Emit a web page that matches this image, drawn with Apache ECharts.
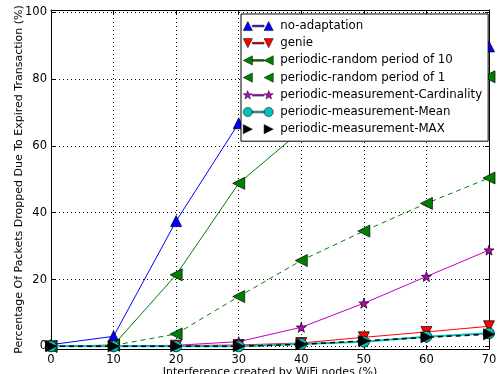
<!DOCTYPE html>
<html>
<head>
<meta charset="utf-8">
<script src="https://cdn.jsdelivr.net/npm/echarts@6/dist/echarts.min.js"></script>
<style>
  html, body { margin: 0; padding: 0; background: #fff; }
  #chart { width: 497px; height: 374px; }
</style>
</head>
<body>
<div id="chart"></div>
<script>
// Interference levels (% of WiFi nodes)
const interference = [0, 10, 20, 30, 40, 50, 60, 70];

// Percentage of packets dropped due to expired transaction
const noAdaptation   = [0.5, 3.0, 37.5, 66.8, 76, 82, 86, 89.8];
const genie          = [0.0, 0.0, 0.2, 0.4, 1.0, 2.7, 4.3, 6.0];
const randomPeriod10 = [0.0, 0.4, 21.4, 48.8, 64.6, 71, 76.5, 80.7];
const randomPeriod1  = [0.0, 0.3, 3.7, 14.9, 25.7, 34.5, 42.8, 50.4];
const cardinality    = [0.0, 0.1, 0.3, 1.4, 5.7, 12.9, 20.9, 28.8];
const meanSeries     = [0.0, 0.0, 0.0, 0.0, 0.7, 1.4, 2.9, 3.9];
const maxSeries      = [0.0, 0.0, 0.0, 0.0, 0.6, 1.6, 2.7, 3.6];

const seriesNames = [
  'no-adaptation',
  'genie',
  'periodic-random period of 10',
  'periodic-random period of 1',
  'periodic-measurement-Cardinality',
  'periodic-measurement-Mean',
  'periodic-measurement-MAX'
];

const yTicks = [0, 20, 40, 60, 80, 100];
const xTicks = [0, 10, 20, 30, 40, 50, 60, 70];

const FONT = 'DejaVu Sans';

const pairs = ys => interference.map((x, i) => [x, ys[i]]);

// marker shapes
const STAR = 'path://M0,-10 L2.35,-3.24 L9.51,-3.09 L3.8,1.24 L5.88,8.09 L0,4 L-5.88,8.09 L-3.8,1.24 L-9.51,-3.09 L-2.35,-3.24 Z';

// legend icons: a marker at each end of a short line
const bar = 'M11,5 L25,5 L25,7 L11,7 Z';
const ICON_UP    = 'path://M0,11.5 L5.5,0.5 L11,11.5 Z M25,11.5 L30.5,0.5 L36,11.5 Z ' + bar;
const ICON_DOWN  = 'path://M0,0.5 L11,0.5 L5.5,11.5 Z M25,0.5 L36,0.5 L30.5,11.5 Z ' + bar;
const ICON_LEFT  = 'path://M0,6 L11,0.5 L11,11.5 Z M25,6 L36,0.5 L36,11.5 Z ' + bar;
const ICON_LEFT2 = 'path://M0,6 L11,0.5 L11,11.5 Z M25,6 L36,0.5 L36,11.5 Z';
const ICON_RIGHT = 'path://M0,0.5 L11,6 L0,11.5 Z M25,0.5 L36,6 L25,11.5 Z';
const ICON_STAR  = 'path://M5.5,0.5 L6.8,4.3 L10.8,4.3 L7.6,6.7 L8.8,10.5 L5.5,8.2 L2.2,10.5 L3.4,6.7 L0.2,4.3 L4.2,4.3 Z ' +
                   'M30.5,0.5 L31.8,4.3 L35.8,4.3 L32.6,6.7 L33.8,10.5 L30.5,8.2 L27.2,10.5 L28.4,6.7 L25.2,4.3 L29.2,4.3 Z ' + bar;
const ICON_CIRC  = 'path://M0,6 A5.5,5.5 0 1 0 11,6 A5.5,5.5 0 1 0 0,6 Z M25,6 A5.5,5.5 0 1 0 36,6 A5.5,5.5 0 1 0 25,6 Z ' + bar;

function lineSeries(name, ys, color, symbol, rotate, size, lineType, width, z) {
  return {
    name: name,
    type: 'line',
    data: pairs(ys),
    symbol: symbol,
    symbolRotate: rotate,
    symbolSize: size,
    showAllSymbol: true,
    z: z,
    lineStyle: { color: color, width: width, type: lineType },
    itemStyle: { color: color, borderColor: '#000', borderWidth: 0.7 },
    emphasis: { disabled: true }
  };
}

const chart = echarts.init(document.getElementById('chart'), null, { renderer: 'canvas' });

const dotted = { show: true, lineStyle: { color: '#000', type: [1, 3], width: 1 } };

chart.setOption({
  animation: false,
  backgroundColor: '#fff',
  grid: { left: 51, right: 8, top: 10, bottom: 25, show: false, containLabel: false, outerBoundsMode: 'none' },
  legend: {
    z: 20,
    orient: 'vertical',
    left: 241,
    top: 14,
    width: 243,
    padding: [6, 6, 6, 2],
    itemWidth: 30,
    itemHeight: 10,
    itemGap: 5.2,
    backgroundColor: '#fff',
    borderColor: '#000',
    borderWidth: 1,
    itemStyle: { borderColor: '#000', borderWidth: 0.5 },
    textStyle: { fontFamily: FONT, fontSize: 11.8, lineHeight: 12, color: '#000', padding: [0, 0, 0, 2] },
    data: [
      { name: seriesNames[0], icon: ICON_UP },
      { name: seriesNames[1], icon: ICON_DOWN },
      { name: seriesNames[2], icon: ICON_LEFT },
      { name: seriesNames[3], icon: ICON_LEFT2 },
      { name: seriesNames[4], icon: ICON_STAR },
      { name: seriesNames[5], icon: ICON_CIRC },
      { name: seriesNames[6], icon: ICON_RIGHT }
    ],
    selectedMode: false
  },
  xAxis: [
    {
      type: 'value',
      min: 0, max: 70, interval: 10,
      name: 'Interference created by WiFi nodes (%)',
      nameLocation: 'middle',
      nameGap: 18,
      nameMoveOverlap: false,
      nameTextStyle: { fontFamily: FONT, fontSize: 11, color: '#000' },
      axisLine: { show: true, onZero: false, lineStyle: { color: '#000', width: 1 } },
      axisTick: { show: true, inside: true, length: 4, lineStyle: { color: '#000' } },
      axisLabel: { fontFamily: FONT, fontSize: 11.5, color: '#000', margin: 5, customValues: xTicks },
      splitLine: dotted
    },
    {
      type: 'value', position: 'top',
      min: 0, max: 70, interval: 10,
      axisLine: { show: true, onZero: false, lineStyle: { color: '#000', width: 1 } },
      axisTick: { show: true, inside: true, length: 4, lineStyle: { color: '#000' } },
      axisLabel: { show: false },
      splitLine: { show: false }
    }
  ],
  yAxis: [
    {
      type: 'value',
      min: -0.8, max: 100.7,
      name: 'Percentage Of Packets Dropped Due To Expired Transaction (%)',
      nameLocation: 'middle',
      nameGap: 26,
      nameMoveOverlap: false,
      nameTextStyle: { fontFamily: FONT, fontSize: 11, color: '#000' },
      axisLine: { show: true, onZero: false, lineStyle: { color: '#000', width: 1 } },
      axisTick: { show: true, inside: true, length: 4, lineStyle: { color: '#000' }, customValues: yTicks },
      axisLabel: { fontFamily: FONT, fontSize: 11.5, color: '#000', margin: 4, customValues: yTicks },
      splitLine: dotted
    },
    {
      type: 'value', position: 'right',
      min: -0.8, max: 100.7,
      axisLine: { show: true, onZero: false, lineStyle: { color: '#000', width: 1 } },
      axisTick: { show: true, inside: true, length: 4, lineStyle: { color: '#000' }, customValues: yTicks },
      axisLabel: { show: false },
      splitLine: { show: false }
    }
  ],
  series: [
    lineSeries(seriesNames[0], noAdaptation,   '#0000ff', 'triangle', 0,   [11, 11], 'solid', 1, 2),
    lineSeries(seriesNames[1], genie,          '#ff0000', 'triangle', 180, [11, 11], 'solid', 1, 3),
    lineSeries(seriesNames[2], randomPeriod10, '#008000', 'triangle', 90,  [12, 12], 'solid', 1, 4),
    lineSeries(seriesNames[3], randomPeriod1,  '#008000', 'triangle', 90,  [12, 12], [5, 4], 1, 5),
    lineSeries(seriesNames[4], cardinality,    '#bf00bf', STAR,       0,   [10, 10], 'solid', 1, 6),
    lineSeries(seriesNames[5], meanSeries,     '#00bfbf', 'circle',   0,   [11, 11], 'solid', 2, 7),
    lineSeries(seriesNames[6], maxSeries,      '#000000', 'triangle', -90, [11, 11], [5, 4], 1.5, 8)
  ]
});
</script>
</body>
</html>
